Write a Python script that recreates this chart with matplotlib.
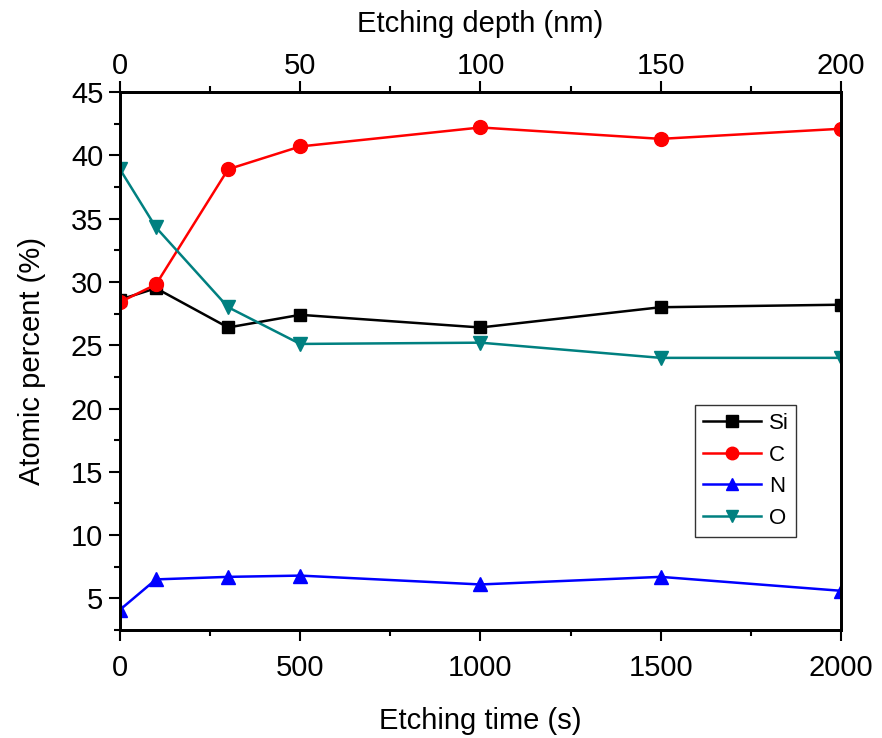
import matplotlib
matplotlib.use("Agg")
import matplotlib.pyplot as plt
from matplotlib.ticker import MultipleLocator

plt.rcParams['font.family'] = ['Liberation Sans', 'DejaVu Sans']

time_s = [0, 100, 300, 500, 1000, 1500, 2000]
si = [28.6, 29.5, 26.4, 27.4, 26.4, 28.0, 28.2]
c = [28.4, 29.8, 38.9, 40.7, 42.2, 41.3, 42.1]
n = [4.1, 6.5, 6.7, 6.8, 6.1, 6.7, 5.6]
o = [38.9, 34.3, 28.0, 25.1, 25.2, 24.0, 24.0]

fig = plt.figure(figsize=(8.82, 7.38), dpi=100)
ax = fig.add_axes([0.136, 0.1463, 0.8175, 0.729])

ms = 9
ax.plot(time_s, si, '-s', color='black', lw=1.8, ms=ms, label='Si')
ax.plot(time_s, c, '-o', color='#ff0000', lw=1.8, ms=ms + 1, label='C')
ax.plot(time_s, n, '-^', color='#0000ff', lw=1.8, ms=ms + 1, label='N')
ax.plot(time_s, o, '-v', color='#008080', lw=1.8, ms=ms + 1, label='O')

fs = 21
ax.set_xlim(0, 2000)
ax.set_ylim(2.5, 45)
ax.xaxis.set_major_locator(MultipleLocator(500))
ax.xaxis.set_minor_locator(MultipleLocator(250))
ax.yaxis.set_major_locator(MultipleLocator(5))
ax.yaxis.set_minor_locator(MultipleLocator(2.5))
ax.tick_params(axis='both', which='major', direction='out', length=8, width=1.5, labelsize=fs)
ax.tick_params(axis='x', which='major', pad=9)
ax.tick_params(axis='y', which='major', pad=4)
ax.tick_params(axis='both', which='minor', direction='out', length=4, width=1.5)
for sp in ax.spines.values():
    sp.set_linewidth(2)

ax.set_xlabel('Etching time (s)', fontsize=fs, labelpad=18)
ax.set_ylabel('Atomic percent (%)', fontsize=fs, labelpad=18)

top = ax.twiny()
top.set_xlim(0, 200)
top.xaxis.set_major_locator(MultipleLocator(50))
top.xaxis.set_minor_locator(MultipleLocator(25))
top.tick_params(axis='x', which='major', direction='out', length=8, width=1.5, labelsize=fs, pad=1)
top.tick_params(axis='x', which='minor', direction='out', length=4, width=1.5)
for sp in top.spines.values():
    sp.set_linewidth(2)
top.set_xlabel('Etching depth (nm)', fontsize=fs, labelpad=14)

leg = ax.legend(loc='upper left', bbox_to_anchor=(0.798, 0.418), fontsize=16,
                frameon=True, fancybox=False, edgecolor='black', handlelength=2.6,
                borderpad=0.35, labelspacing=0.48, handletextpad=0.35, markerscale=0.9,
                borderaxespad=0)
leg.get_frame().set_linewidth(1.0)

fig.savefig('out.png', dpi=100)
